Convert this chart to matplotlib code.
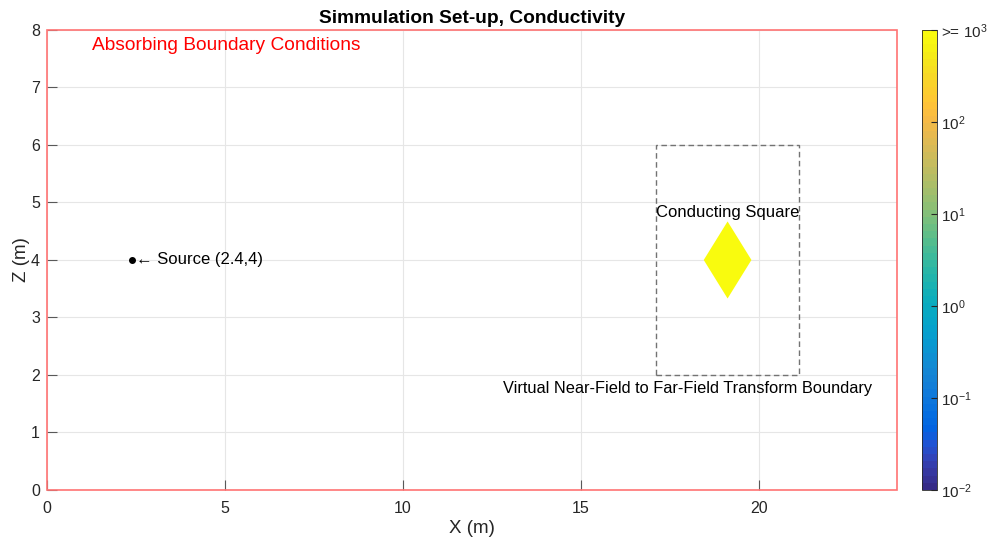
import numpy as np
import matplotlib
matplotlib.use("Agg")
import matplotlib.pyplot as plt
from matplotlib.colors import LinearSegmentedColormap, LogNorm
from matplotlib.patches import Polygon, Rectangle
import matplotlib.cm as cm

plt.rcParams['font.family'] = ['Liberation Sans', 'DejaVu Sans']
plt.rcParams['mathtext.fontset'] = 'custom'
plt.rcParams['mathtext.rm'] = 'Liberation Sans'
plt.rcParams['mathtext.it'] = 'Liberation Sans'
plt.rcParams['mathtext.bf'] = 'Liberation Sans:bold'
plt.rcParams['mathtext.default'] = 'regular'

# ---- data ----
domain_x = [0.0, 23.88]
domain_z = [0.0, 8.0]
x_ticks = [0, 5, 10, 15, 20]
z_ticks = [0, 1, 2, 3, 4, 5, 6, 7, 8]
source_xz = [2.4, 4.0]
scatterer_center = [19.12, 4.0]
scatterer_half = [0.67, 0.67]
nf2ff_box_x = [17.12, 21.12]
nf2ff_box_z = [2.0, 6.0]
cond_min, cond_max = 1e-2, 1e3
cbar_ticks = [1e-2, 1e-1, 1e0, 1e1, 1e2, 1e3]
cbar_labels = [r'$10^{-2}$', r'$10^{-1}$', r'$10^{0}$', r'$10^{1}$', r'$10^{2}$', r'>= $10^{3}$']
scatterer_cond = 1e3

parula_anchors = [
    [0.2081, 0.1663, 0.5292], [0.2123, 0.2138, 0.6270], [0.1959, 0.2645, 0.7279],
    [0.1253, 0.3242, 0.8303], [0.0117, 0.3875, 0.8820], [0.0165, 0.4266, 0.8786],
    [0.0498, 0.4586, 0.8641], [0.0723, 0.4887, 0.8467], [0.0793, 0.5200, 0.8312],
    [0.0641, 0.5570, 0.8240], [0.0343, 0.5966, 0.8199], [0.0239, 0.6287, 0.8038],
    [0.0228, 0.6535, 0.7768], [0.0384, 0.6743, 0.7436], [0.0843, 0.6928, 0.7062],
    [0.1453, 0.7098, 0.6646], [0.2178, 0.7250, 0.6193], [0.3022, 0.7376, 0.5712],
    [0.3953, 0.7459, 0.5244], [0.4871, 0.7491, 0.4840], [0.5709, 0.7485, 0.4494],
    [0.6473, 0.7456, 0.4188], [0.7184, 0.7411, 0.3905], [0.7858, 0.7356, 0.3633],
    [0.8507, 0.7299, 0.3360], [0.9139, 0.7258, 0.3063], [0.9739, 0.7314, 0.2666],
    [0.9990, 0.7653, 0.2164], [0.9880, 0.8066, 0.1794], [0.9697, 0.8481, 0.1475],
    [0.9589, 0.8949, 0.1132], [0.9661, 0.9514, 0.0755], [0.9763, 0.9831, 0.0538],
]
parula = LinearSegmentedColormap.from_list('parula', parula_anchors, N=64)
norm = LogNorm(vmin=cond_min, vmax=cond_max)

dark = (0.15, 0.15, 0.15)
fig = plt.figure(figsize=(9.89, 5.44), dpi=100)
ax = fig.add_axes([0.0475, 0.0993, 0.8595, 0.8456])
ax.set_xlim(domain_x)
ax.set_ylim(domain_z)
ax.set_xticks(x_ticks)
ax.set_yticks(z_ticks)
ax.grid(True, color=(0.9, 0.9, 0.9), linewidth=0.8)
ax.set_axisbelow(True)
for s in ax.spines.values():
    s.set_visible(False)
ax.tick_params(direction='in', length=7, width=0.8, color=(0.35, 0.35, 0.35),
               labelcolor=dark, labelsize=11.5)
ax.tick_params(axis='x', pad=8)
ax.tick_params(axis='y', pad=5)

# boundary rectangle
ax.add_patch(Rectangle((domain_x[0], domain_z[0]), domain_x[1] - domain_x[0], domain_z[1] - domain_z[0],
                       fill=False, edgecolor=(1.0, 0.45, 0.45), linewidth=1.2, clip_on=False, zorder=3))

# scatterer
cx, cz = scatterer_center
hx, hz = scatterer_half
verts = [[cx - hx, cz], [cx, cz + hz], [cx + hx, cz], [cx, cz - hz]]
ax.add_patch(Polygon(verts, closed=True, facecolor=parula(norm(scatterer_cond)), edgecolor='none', zorder=2))

# NF2FF box
ax.add_patch(Rectangle((nf2ff_box_x[0], nf2ff_box_z[0]), nf2ff_box_x[1] - nf2ff_box_x[0],
                       nf2ff_box_z[1] - nf2ff_box_z[0], fill=False, edgecolor=(0.45, 0.45, 0.45),
                       linestyle=(0, (4, 2.5)), linewidth=1.0, zorder=2))

# source
ax.plot([source_xz[0]], [source_xz[1]], 'o', color='black', markersize=4, zorder=4)
ax.text(source_xz[0] + 0.1, source_xz[1], '← Source (2.4,4)', fontsize=12, va='center', ha='left')

ax.text(1.27, 7.73, 'Absorbing Boundary Conditions', color='red', fontsize=13.8, va='center', ha='left')
ax.text(cx, 4.83, 'Conducting Square', fontsize=12, ha='center', va='center')
ax.text(18.0, 1.77, 'Virtual Near-Field to Far-Field Transform Boundary', fontsize=11.8, ha='center', va='center')

ax.set_title('Simmulation Set-up, Conductivity', fontsize=13.8, fontweight='bold', pad=5)
ax.set_xlabel('X (m)', fontsize=13.5, color=dark, labelpad=3)
ax.set_ylabel('Z (m)', fontsize=13.5, color=dark, labelpad=1)

cax = fig.add_axes([0.9323, 0.0993, 0.0152, 0.8456])
sm = cm.ScalarMappable(norm=norm, cmap=parula)
cb = fig.colorbar(sm, cax=cax)
cb.set_ticks(cbar_ticks)
cb.set_ticklabels(cbar_labels)
cb.minorticks_off()
cb.outline.set_edgecolor(dark)
cb.outline.set_linewidth(0.6)
cax.tick_params(direction='in', length=4, colors=dark, labelsize=11, pad=3)

fig.savefig('out.png', dpi=100)
